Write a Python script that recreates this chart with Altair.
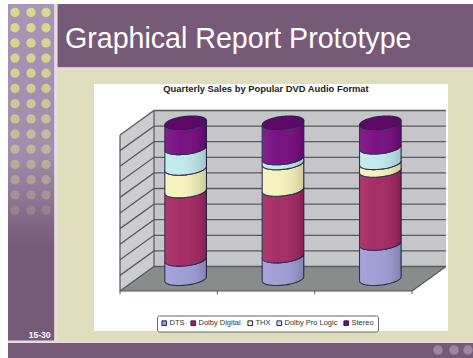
import math
import altair as alt
import pandas as pd

# Monthly audio-format share, percent of DVD sales
months = ["Jan", "Feb", "Mar"]
formats = ["DTS", "Dolby Digital", "THX", "Dolby Pro Logic", "Stereo"]
dts = [12.4, 14.5, 22.6]
dolby_digital = [43.8, 42.7, 46.8]
thx = [14.5, 17.0, 4.9]
pro_logic = [13.2, 3.2, 10.0]
stereo = [16.1, 22.6, 15.7]
format_colors = ["#9C9AD4", "#A3245F", "#F4F1B8", "#BFE8EA", "#74087E"]
percent_ticks = list(range(0, 101, 10))

W, H = 473, 358
PLUM = "#775A78"
PALE = "#E6DCE0"

# Pseudo-3D frame: front-left origin, size of one category and one percent, box depth
X0, Y0 = 120.0, 291.0
CAT_W = 97.33
PCT_H = 1.56
DEPTH_X, DEPTH_Y = 34.0, 24.5
COL_R, COL_RY, COL_TILT = 20.8, 6.4, 2.2


def ux(px):
    return (px - X0) / CAT_W - 0.5


def uy(py):
    return (Y0 - py) / PCT_H


dx = DEPTH_X / CAT_W
dy = DEPTH_Y / PCT_H
sx = alt.Scale(domain=[ux(0), ux(W)], nice=False, zero=False)
sy = alt.Scale(domain=[uy(H), uy(0)], nice=False, zero=False)
X = alt.X("x:Q", scale=sx, axis=None)
Y = alt.Y("y:Q", scale=sy, axis=None, stack=None)
Y2 = alt.Y2("y2:Q")
one_row = pd.DataFrame({"a": [0]})


def panel(x0, x1, y0, y1, color):
    return alt.Chart(one_row).mark_rect(color=color).encode(
        x=alt.value(x0), x2=alt.value(x1), y=alt.value(y0), y2=alt.value(y1)
    )


def label(text, x, y, size, color, weight="normal", align="left"):
    return alt.Chart(one_row).mark_text(
        font="Liberation Sans", fontSize=size, color=color,
        fontWeight=weight, align=align, baseline="alphabetic",
    ).encode(x=alt.value(x), y=alt.value(y), text=alt.value(text))


def gradient(stops, x2, y2):
    return alt.LinearGradient(
        gradient="linear",
        stops=[alt.GradientStop(color=c, offset=o) for c, o in stops],
        x1=0, x2=x2, y1=0, y2=y2,
    )


# Slide furniture
slide = [
    panel(0, W, 0, H, "white"),
    panel(57, W, 68, 343, "#DEDDBC"),
    alt.Chart(one_row).mark_rect(
        color=gradient(
            [("#A896B6", 0), ("#A08CAC", 0.45), (PLUM, 0.72), (PLUM, 1)], 0, 1
        )
    ).encode(x=alt.value(8), x2=alt.value(54.5), y=alt.value(4), y2=alt.value(341)),
    panel(54.5, 57.5, 4, 343, PALE),
    panel(57.5, W, 4, 67.5, PLUM),
    panel(57.5, W, 67.5, 70, PALE),
    panel(8, W, 340.5, 343, PALE),
    panel(8, W, 343, H, PLUM),
    panel(94, 448, 84, 331, "white"),
]

# Dot columns down the side panel, fading out towards the foot
dot_rows = [
    {"x": ux(px), "y": uy(12.5 + 15.2 * r), "o": max(0.08, 1 - 0.8 * (r / 13) ** 1.6)}
    for r in range(14)
    for px in (15, 31, 46)
]
side_dots = alt.Chart(pd.DataFrame(dot_rows)).mark_circle(size=88, color="#DAD88C").encode(
    x=X, y=Y, opacity=alt.Opacity("o:Q", scale=None)
)
foot_dots = alt.Chart(pd.DataFrame(
    {"x": [ux(p) for p in (438, 454, 468)], "y": [uy(350)] * 3}
)).mark_circle(size=88, color="#9C88A2", opacity=1).encode(x=X, y=Y)

# Box behind the columns
L, R = -0.5, 2.5
back_wall = alt.Chart(pd.DataFrame({
    "x": [L + dx, R + dx], "y": [dy, dy], "y2": [100 + dy, 100 + dy],
})).mark_area(color="#C6C6CA").encode(x=X, y=Y, y2=Y2)
side_wall = alt.Chart(pd.DataFrame({
    "x": [L, L + dx], "y": [0, dy], "y2": [100, 100 + dy],
})).mark_area(color="#CDCDD1").encode(x=X, y=Y, y2=Y2)
floor = alt.Chart(pd.DataFrame({
    "x": [L, L + dx, R, R + dx], "y": [0, 0, 0, dy], "y2": [0, dy, dy, dy],
})).mark_area(color="#888C8B").encode(x=X, y=Y, y2=Y2)

grid_rows = []
for p in percent_ticks:
    for i, (gx, gy) in enumerate([(L, p), (L + dx, p + dy), (R + dx, p + dy)]):
        grid_rows.append({"x": gx, "y": gy, "k": p, "i": i})
grid = alt.Chart(pd.DataFrame(grid_rows)).mark_line(color="#5A5A5E", strokeWidth=1.3).encode(
    x=X, y=Y, detail="k:N", order="i:Q"
)
edge_rows = [
    {"x": L + dx, "y": dy, "k": "corner", "i": 0},
    {"x": L + dx, "y": 100 + dy, "k": "corner", "i": 1},
    {"x": L, "y": 0, "k": "axis", "i": 0},
    {"x": L, "y": 100, "k": "axis", "i": 1},
    {"x": L, "y": 0, "k": "base", "i": 0},
    {"x": R, "y": 0, "k": "base", "i": 1},
    {"x": R, "y": 0, "k": "corner2", "i": 0},
    {"x": R + dx, "y": dy, "k": "corner2", "i": 1},
]
edges = alt.Chart(pd.DataFrame(edge_rows)).mark_line(color="#55555A", strokeWidth=1.2).encode(
    x=X, y=Y, detail="k:N", order="i:Q"
)
cat_ticks = alt.Chart(pd.DataFrame({
    "x": [-0.5, 0.5, 1.5, 2.5], "y": [0.0] * 4, "y2": [-2.0] * 4,
})).mark_rule(color="#55555A", strokeWidth=1).encode(x=X, y=Y, y2=Y2)

# Axes carried by an invisible layer so they can sit above the furniture
axis_layer = alt.Chart(pd.DataFrame({"x": [0.0], "y": [0.0]})).mark_point(opacity=0).encode(
    x=alt.X(
        "x:Q", scale=sx,
        axis=alt.Axis(
            title=None, orient="bottom", offset=-(H - Y0), values=[0, 1, 2],
            labelExpr=f"{months}[datum.value]", grid=False, domain=False, ticks=False,
            labelFont="Liberation Sans", labelFontSize=7.5, labelColor="#333333",
            labelPadding=7, zindex=2,
        ),
    ),
    y=alt.Y(
        "y:Q", scale=sy,
        axis=alt.Axis(
            title=None, orient="left", offset=-X0, values=percent_ticks,
            labelExpr="datum.value + '%'", grid=False, domain=False, tickSize=3,
            tickColor="#55555A", labelFont="Liberation Sans", labelFontSize=7.5,
            labelColor="#333333", labelPadding=1.5, zindex=2,
        ),
    ),
)

# Cylinder geometry: stacked segments are bounded by the front arc of a tilted ellipse
series = dict(zip(formats, [dts, dolby_digital, thx, pro_logic, stereo]))
STEPS = 48


def arc(i, sign):
    """Points along one half of an ellipse, as (x offset in categories, y offset in percent)."""
    out = []
    for s in range(STEPS + 1):
        t = math.pi * s / STEPS
        u = -math.cos(t)
        out.append((
            i + 0.5 * dx + COL_R * u / CAT_W,
            0.5 * dy + (sign * COL_RY * math.sin(t) + COL_TILT * u) / PCT_H,
        ))
    return out


segment_rows, sheen_rows, cap_rows = [], [], []
for i, month in enumerate(months):
    front = arc(i, -1)
    back = arc(i, 1)
    base = 0.0
    for name in formats:
        top = base + series[name][i]
        for gx, off in front:
            segment_rows.append({"x": gx, "y": base + off, "y2": top + off,
                                 "format": name, "month": month})
        base = top
    for (gx, off), (_, off_b) in zip(front, back):
        sheen_rows.append({"x": gx, "y": off, "y2": base + off, "month": month})
        cap_rows.append({"x": gx, "y": base + off, "y2": base + off_b, "month": month})

segments = alt.Chart(pd.DataFrame(segment_rows)).mark_area(
    stroke="#26264E", strokeWidth=1.1, opacity=1
).encode(
    x=X, y=Y, y2=Y2,
    detail="month:N",
    color=alt.Color(
        "format:N",
        scale=alt.Scale(domain=formats, range=format_colors),
        legend=alt.Legend(
            title=None, orient="none", legendX=157, legendY=315.5, direction="horizontal",
            columns=5, symbolType="square", symbolSize=22, symbolStrokeWidth=1,
            labelFont="Liberation Sans", labelFontSize=7.5, labelColor="#333333",
            labelOffset=1.5, columnPadding=4, padding=3.5,
            fillColor="white", strokeColor="#666666", cornerRadius=2,
        ),
    ),
)
sheen = alt.Chart(pd.DataFrame(sheen_rows)).mark_area(
    color=gradient(
        [("rgba(255,255,255,0.10)", 0), ("rgba(255,255,255,0.04)", 0.4), ("rgba(0,0,0,0.16)", 1)],
        1, 0,
    )
).encode(x=X, y=Y, y2=Y2, detail="month:N")
caps = alt.Chart(pd.DataFrame(cap_rows)).mark_area(
    color="#5E0868", stroke="#26264E", strokeWidth=1.1
).encode(x=X, y=Y, y2=Y2, detail="month:N")

chart = alt.layer(
    *slide,
    side_dots,
    foot_dots,
    label("Graphical Report Prototype", 65, 47.5, 28.6, "white"),
    label("15-30", 50.5, 338, 8.5, "white", weight="bold", align="right"),
    label("Quarterly Sales by Popular DVD Audio Format", 266, 92, 9.4, "#222222",
          weight="bold", align="center"),
    back_wall,
    side_wall,
    floor,
    grid,
    edges,
    cat_ticks,
    axis_layer,
    segments,
    sheen,
    caps,
).properties(
    width=W, height=H, autosize="none", padding=0, background="white"
).configure_view(stroke=None)

chart.save("out.html", embed_options={"renderer": "svg", "actions": False})
